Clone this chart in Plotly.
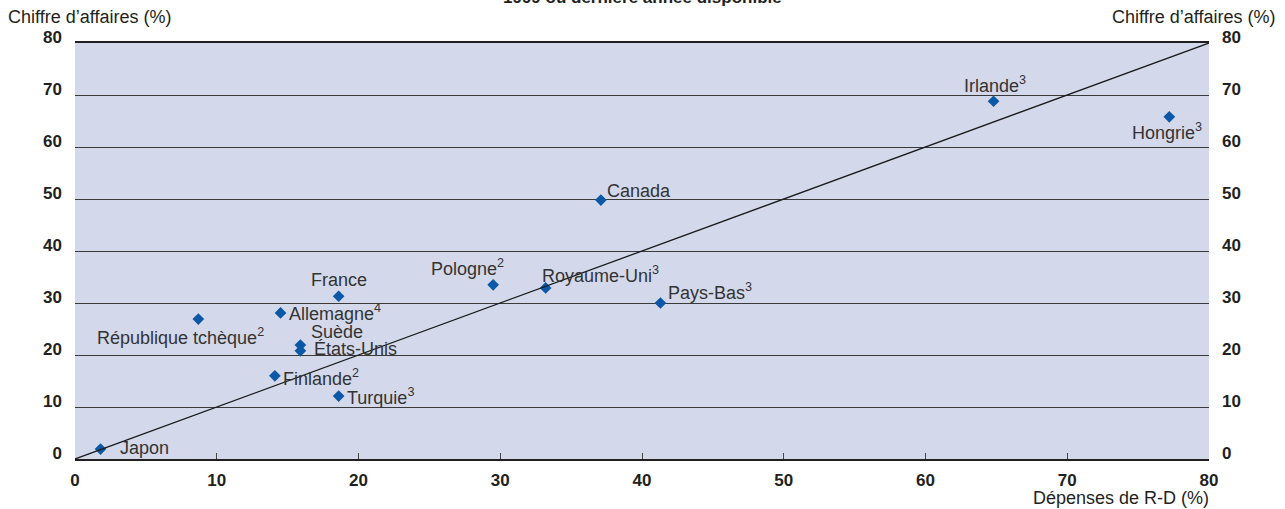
import plotly.graph_objects as go

# Share of business R&D expenditure vs. share of turnover (%)
countries = ["Japon", "République tchèque<sup>2</sup>", "Allemagne<sup>4</sup>", "France",
             "Suède", "États-Unis", "Finlande<sup>2</sup>", "Turquie<sup>3</sup>",
             "Pologne<sup>2</sup>", "Royaume-Uni<sup>3</sup>", "Pays-Bas<sup>3</sup>",
             "Canada", "Irlande<sup>3</sup>", "Hongrie<sup>3</sup>"]
rd_spending = [1.8, 8.7, 14.5, 18.6, 15.9, 15.9, 14.1, 18.6, 29.5, 33.2, 41.3, 37.1, 64.8, 77.2]
turnover = [1.9, 26.9, 28.1, 31.3, 21.9, 20.8, 16.0, 12.1, 33.5, 32.9, 30.0, 49.8, 68.8, 65.8]

axis_ticks = [0, 10, 20, 30, 40, 50, 60, 70, 80]
axis_range = [0, 80]

# label placement per country: (xanchor, xshift, yshift) in pixels
label_pos = {
    "Japon": ("left", 17, 1),
    "République tchèque<sup>2</sup>": ("center", -18, -17),
    "Allemagne<sup>4</sup>": ("left", 6, 0),
    "France": ("center", 0, 16),
    "Suède": ("left", 9, 13),
    "États-Unis": ("left", 12, 2),
    "Finlande<sup>2</sup>": ("left", 6, -2),
    "Turquie<sup>3</sup>": ("left", 6, 0),
    "Pologne<sup>2</sup>": ("center", -26, 17),
    "Royaume-Uni<sup>3</sup>": ("left", -6, 13),
    "Pays-Bas<sup>3</sup>": ("left", 6, 12),
    "Canada": ("left", 4, 9),
    "Irlande<sup>3</sup>": ("center", 1, 17),
    "Hongrie<sup>3</sup>": ("center", -2, -15),
}

FONT = "Liberation Sans, Arial, sans-serif"
TXT = "#231f20"

fig = go.Figure()

# 45-degree reference line spanning the axis range
fig.add_trace(go.Scatter(x=axis_range, y=axis_range, mode="lines",
                         line=dict(color="#1a1a1a", width=1.3),
                         hoverinfo="skip", showlegend=False, yaxis="y2"))

fig.add_trace(go.Scatter(x=rd_spending, y=turnover, mode="markers",
                         marker=dict(symbol="diamond", size=9, color="#0b58a6"),
                         showlegend=False, text=countries))

annotations = []
for name, xv, yv in zip(countries, rd_spending, turnover):
    xa, dx, dy = label_pos[name]
    annotations.append(dict(x=xv, y=yv, xref="x", yref="y", text=name, showarrow=False,
                            xanchor=xa, yanchor="middle", xshift=dx, yshift=dy,
                            font=dict(family=FONT, size=18, color="#333333")))

annotations += [
    dict(x=0, y=1, xref="paper", yref="paper", text="Chiffre d’affaires (%)", showarrow=False,
         xanchor="left", yanchor="middle", xshift=-69, yshift=26,
         font=dict(family=FONT, size=18, color=TXT)),
    dict(x=1, y=1, xref="paper", yref="paper", text="Chiffre d’affaires (%)", showarrow=False,
         xanchor="right", yanchor="middle", xshift=68, yshift=26,
         font=dict(family=FONT, size=18, color=TXT)),
    dict(x=1, y=0, xref="paper", yref="paper", text="Dépenses de R-D (%)", showarrow=False,
         xanchor="right", yanchor="middle", xshift=2, yshift=-39,
         font=dict(family=FONT, size=18, color=TXT)),
    dict(x=0.5, y=1, xref="paper", yref="paper", text="<b>1999 ou dernière année disponible</b>",
         showarrow=False, xanchor="center", yanchor="middle", yshift=46,
         font=dict(family=FONT, size=17, color=TXT)),
]

tick_font = dict(family="Liberation Sans, Arial, sans-serif", size=17, color=TXT, weight="bold")

fig.update_layout(
    width=1285, height=509,
    margin=dict(l=75, r=76, t=43, b=50),
    paper_bgcolor="white",
    plot_bgcolor="#d3d9eb",
    annotations=annotations,
    xaxis=dict(range=axis_range, tickvals=axis_ticks, showgrid=False, zeroline=False,
               showline=True, mirror=True, linecolor="#231f20", linewidth=2,
               ticks="inside", ticklen=6, tickcolor="#444", tickwidth=1,
               ticklabelstandoff=5, tickfont=tick_font),
    yaxis=dict(range=axis_range, tickvals=axis_ticks, showgrid=True, gridcolor="#3a3a3a",
               gridwidth=1, zeroline=False, showline=False, ticks="",
               ticklabelstandoff=12, ticklabelshift=-6, tickfont=tick_font),
    yaxis2=dict(range=axis_range, tickvals=axis_ticks, overlaying="y", side="right",
                showgrid=False, zeroline=False, showline=False, ticks="",
                ticklabelstandoff=12, ticklabelshift=-6, tickfont=tick_font),
)

fig.write_html("out.html")
